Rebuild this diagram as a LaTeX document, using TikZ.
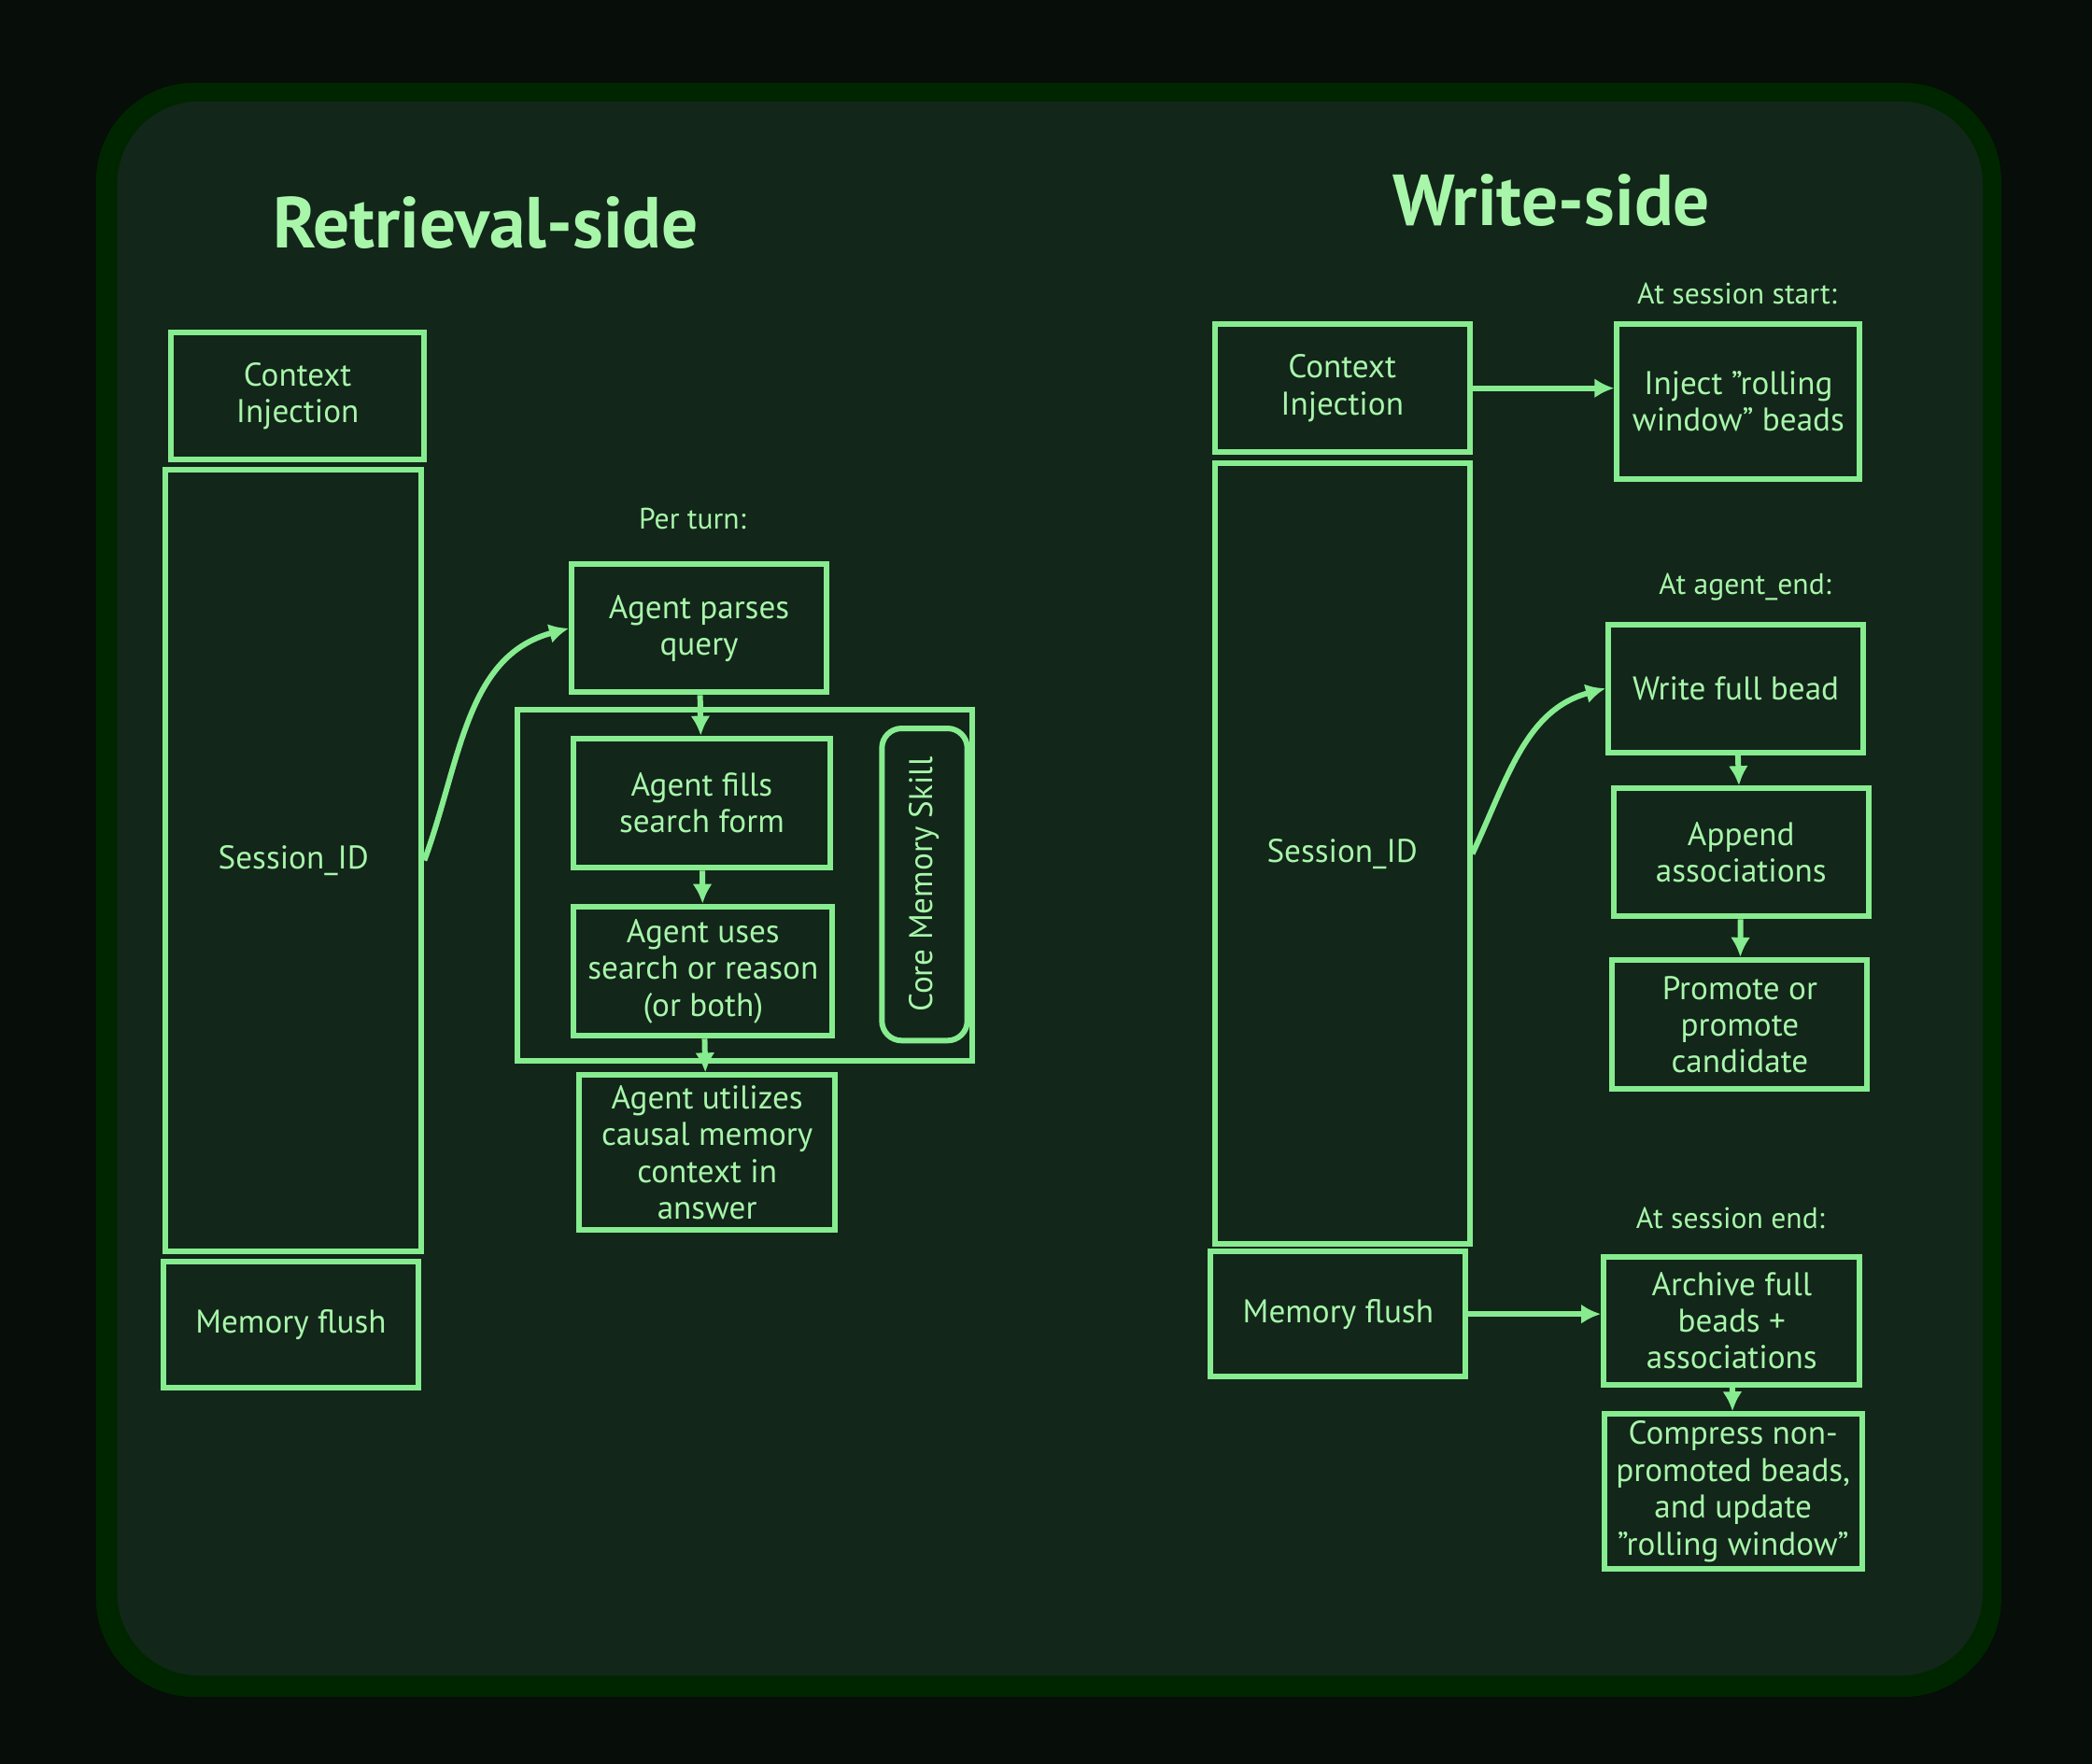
\documentclass[tikz,border=0pt]{standalone}
\usepackage{fontspec}
\setmainfont{PT Sans}
\usetikzlibrary{arrows.meta, positioning}
\definecolor{crtline}{HTML}{86EC8F}
\definecolor{crttext}{HTML}{A8F6AA}
\definecolor{crtbg}{HTML}{12261A}
\definecolor{crtdark}{HTML}{070D08}
\newcommand{\qt}{{\char34}}
\tikzset{
  box/.style 2 args={draw=crtline, line width=1.7pt, text=crttext, align=center,
    font=\fontsize{10}{11.2}\selectfont, inner sep=1pt,
    minimum width=#1*0.014286cm, minimum height=#2*0.014286cm},
  lbl/.style={text=crttext, font=\fontsize{9}{11}\selectfont},
  ttl/.style={text=crttext, font=\fontsize{22}{26}\selectfont\bfseries},
  arr/.style={draw=crtline, line width=1.7pt, -{Latex[length=6pt,width=6pt]}}
}
\begin{document}
\begin{tikzpicture}[x=0.014286cm, y=-0.014286cm]
% screen
\fill[crtdark] (0,0) rectangle (1568,1322);
\useasboundingbox (0,0) rectangle (1568,1322);
\fill[black!85!green, rounded corners=30] (72,62) rectangle (1500,1272);
\fill[crtbg, rounded corners=25] (88,76) rectangle (1486,1256);
% retrieval side
\node[ttl] (tretr) at (364,167) {Retrieval-side};
\node[box={190}{95}] (ctxL) at (223,297) {Context\\Injection};
\node[box={192}{586}] (sessL) at (220,645) {Session\_ID};
\node[box={191}{94}] (memL) at (218,993) {Memory flush};
\node[lbl] (perturn) at (519,389) {Per turn:};
\node[box={191}{96}] (parse) at (524,471) {Agent parses\\query};
\node[box={341}{263}] (frame) at (558.5,663.5) {};
\node[box={234}{64}, rotate=90, rounded corners=6pt] (skill) at (693,663) {Core Memory Skill};
\node[box={192}{97}] (fills) at (526,602) {Agent fills\\search form};
\node[box={194}{97}] (uses) at (527,728) {Agent uses\\search or reason\\(or both)};
\node[box={192}{116}] (utilize) at (530,864) {Agent utilizes\\causal memory\\context in\\answer};
\draw[arr] (sessL.east) to[out=70, in=195] (parse.west);
\draw[arr] (parse) -- (fills);
\draw[arr] (fills) -- (uses);
\draw[arr] (uses) -- (utilize);
% write side
\node[ttl] (twrite) at (1163,150) {Write-side};
\node[box={191}{96}] (ctxR) at (1006,291) {Context\\Injection};
\node[box={191}{585}] (sessR) at (1006,640) {Session\_ID};
\node[box={191}{94}] (memR) at (1003,985) {Memory flush};
\node[lbl] (tstart) at (1302,220) {At session start:};
\node[box={182}{116}] (inject) at (1303,301) {Inject \qt rolling\\window\qt{} beads};
\node[lbl] (tagent) at (1308,440) {At agent\_end:};
\node[box={191}{96}] (write) at (1301,516) {Write full bead};
\node[box={191}{96}] (append) at (1305,639) {Append\\associations};
\node[box={191}{97}] (promote) at (1304,768) {Promote or\\promote\\candidate};
\node[lbl] (tend) at (1297,913) {At session end:};
\node[box={192}{96}] (archive) at (1298,990) {Archive full\\beads +\\associations};
\node[box={193}{116}] (compress) at (1299,1118) {Compress non-\\promoted beads,\\and update\\\qt rolling window\qt};
\draw[arr] (ctxR.east) -- (ctxR.east -| inject.west);
\draw[arr] (sessR.east) to[out=65, in=195] (write.west);
\draw[arr] (write) -- (append);
\draw[arr] (append) -- (promote);
\draw[arr] (memR.east) -- (memR.east -| archive.west);
\draw[arr] (archive) -- (compress);
\end{tikzpicture}
\end{document}
